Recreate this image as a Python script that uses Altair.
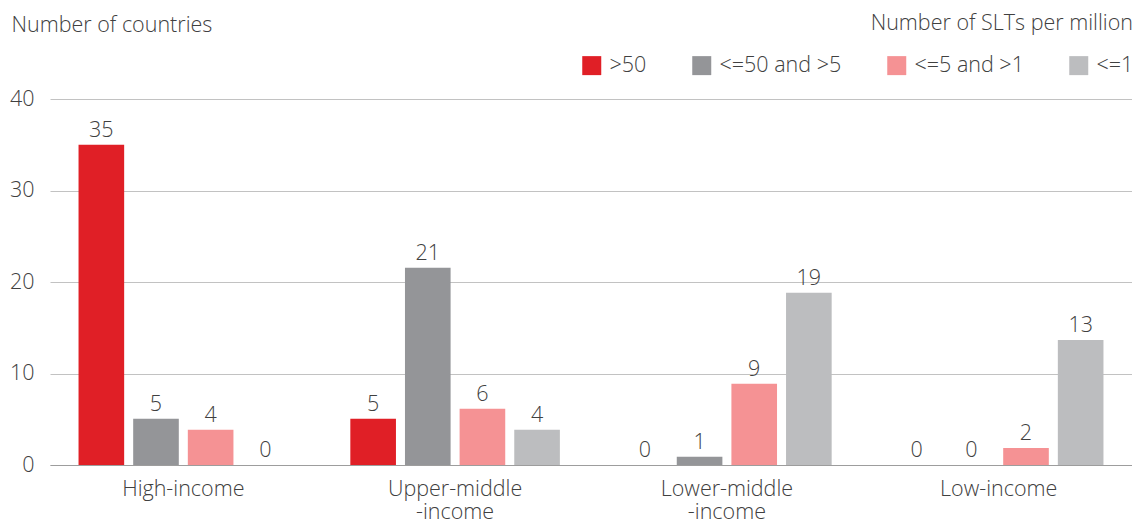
import altair as alt
import pandas as pd

# ---- data ----
categories = ["High-income", "Upper-middle-income", "Lower-middle-income", "Low-income"]
series = [">50", "<=50 and >5", "<=5 and >1", "<=1"]
colors = ["#e01f26", "#949598", "#f59294", "#bcbdbf"]

# labelled counts (per series, across income groups)
count_gt50 = [35, 5, 0, 0]
count_50_5 = [5, 21, 1, 0]
count_5_1 = [4, 6, 9, 2]
count_le1 = [0, 4, 19, 13]

# bar heights as drawn in the picture
height_gt50 = [35.0, 5.06, 0, 0]
height_50_5 = [5.06, 21.56, 0.9, 0]
height_5_1 = [3.86, 6.15, 8.89, 1.86]
height_le1 = [0, 3.86, 18.83, 13.66]

y_ticks = [0, 10, 20, 30, 40]

counts = [count_gt50, count_50_5, count_5_1, count_le1]
heights = [height_gt50, height_50_5, height_5_1, height_le1]

rows = []
for s_i, s in enumerate(series):
    for c_i, c in enumerate(categories):
        rows.append({"category": c, "series": s, "count": counts[s_i][c_i],
                     "height": heights[s_i][c_i]})
df = pd.DataFrame(rows)

FONT = "Open Sans"
TXT = "#404040"
FS = 21.5

x_enc = alt.X(
    "category:N", sort=categories,
    scale=alt.Scale(paddingInner=0.229, paddingOuter=0.105),
    axis=alt.Axis(
        title=None, labelAngle=0, ticks=False, domain=True,
        domainColor="#9d9d9d", domainWidth=1,
        labelPadding=13, labelBaseline="top", labelLineHeight=23,
        labelExpr="indexof(datum.value, 'middle-') > 0 ? [slice(datum.value, 0, indexof(datum.value, 'middle-') + 6), slice(datum.value, indexof(datum.value, 'middle-') + 6)] : datum.value",
    ),
)
xoff_enc = alt.XOffset("series:N", sort=series,
                       scale=alt.Scale(paddingInner=0.165, paddingOuter=0))

y_enc = alt.Y(
    "height:Q", scale=alt.Scale(domain=[0, 40], nice=False),
    axis=alt.Axis(
        title="Number of countries", titleAngle=0, titleX=-39, titleY=-68,
        titleAlign="left", titleBaseline="alphabetic",
        values=y_ticks, ticks=False, domain=False, grid=True,
        gridColor="#c2c2c2", gridWidth=1, labelPadding=16,
    ),
)

base = alt.Chart(df).encode(x=x_enc, xOffset=xoff_enc)

bars = base.mark_bar().encode(
    y=y_enc,
    color=alt.Color(
        "series:N", sort=series,
        scale=alt.Scale(domain=series, range=colors),
        legend=alt.Legend(
            orient="none", legendX=531, legendY=-86, direction="horizontal",
            title="Number of SLTs per million", titleAnchor="end",
            titlePadding=20, symbolType="square", symbolSize=361,
            symbolStrokeWidth=0, labelOffset=7, columnPadding=44, padding=0,
        ),
    ),
)

labels = base.mark_text(
    dy=-8, baseline="alphabetic", fontSize=FS, font=FONT, fontWeight=300, color=TXT
).encode(y=alt.Y("height:Q"), text=alt.Text("count:Q"))

chart = (
    alt.layer(bars, labels)
    .properties(
        width=1082, height=366,
        padding={"left": 42, "top": 91, "right": 0, "bottom": 54},
        autosize=alt.AutoSizeParams(type="none"),
    )
    .configure_view(stroke=None)
    .configure_axis(
        labelFont=FONT, labelFontSize=FS, labelFontWeight=300, labelColor=TXT,
        titleFont=FONT, titleFontSize=FS, titleFontWeight=300, titleColor=TXT,
    )
    .configure_legend(
        labelFont=FONT, labelFontSize=FS, labelFontWeight=300, labelColor=TXT,
        titleFont=FONT, titleFontSize=FS, titleFontWeight=300, titleColor=TXT,
        titleLimit=0, labelLimit=0,
    )
)

chart.save("out.html", embed_options={"renderer": "svg", "actions": False})
